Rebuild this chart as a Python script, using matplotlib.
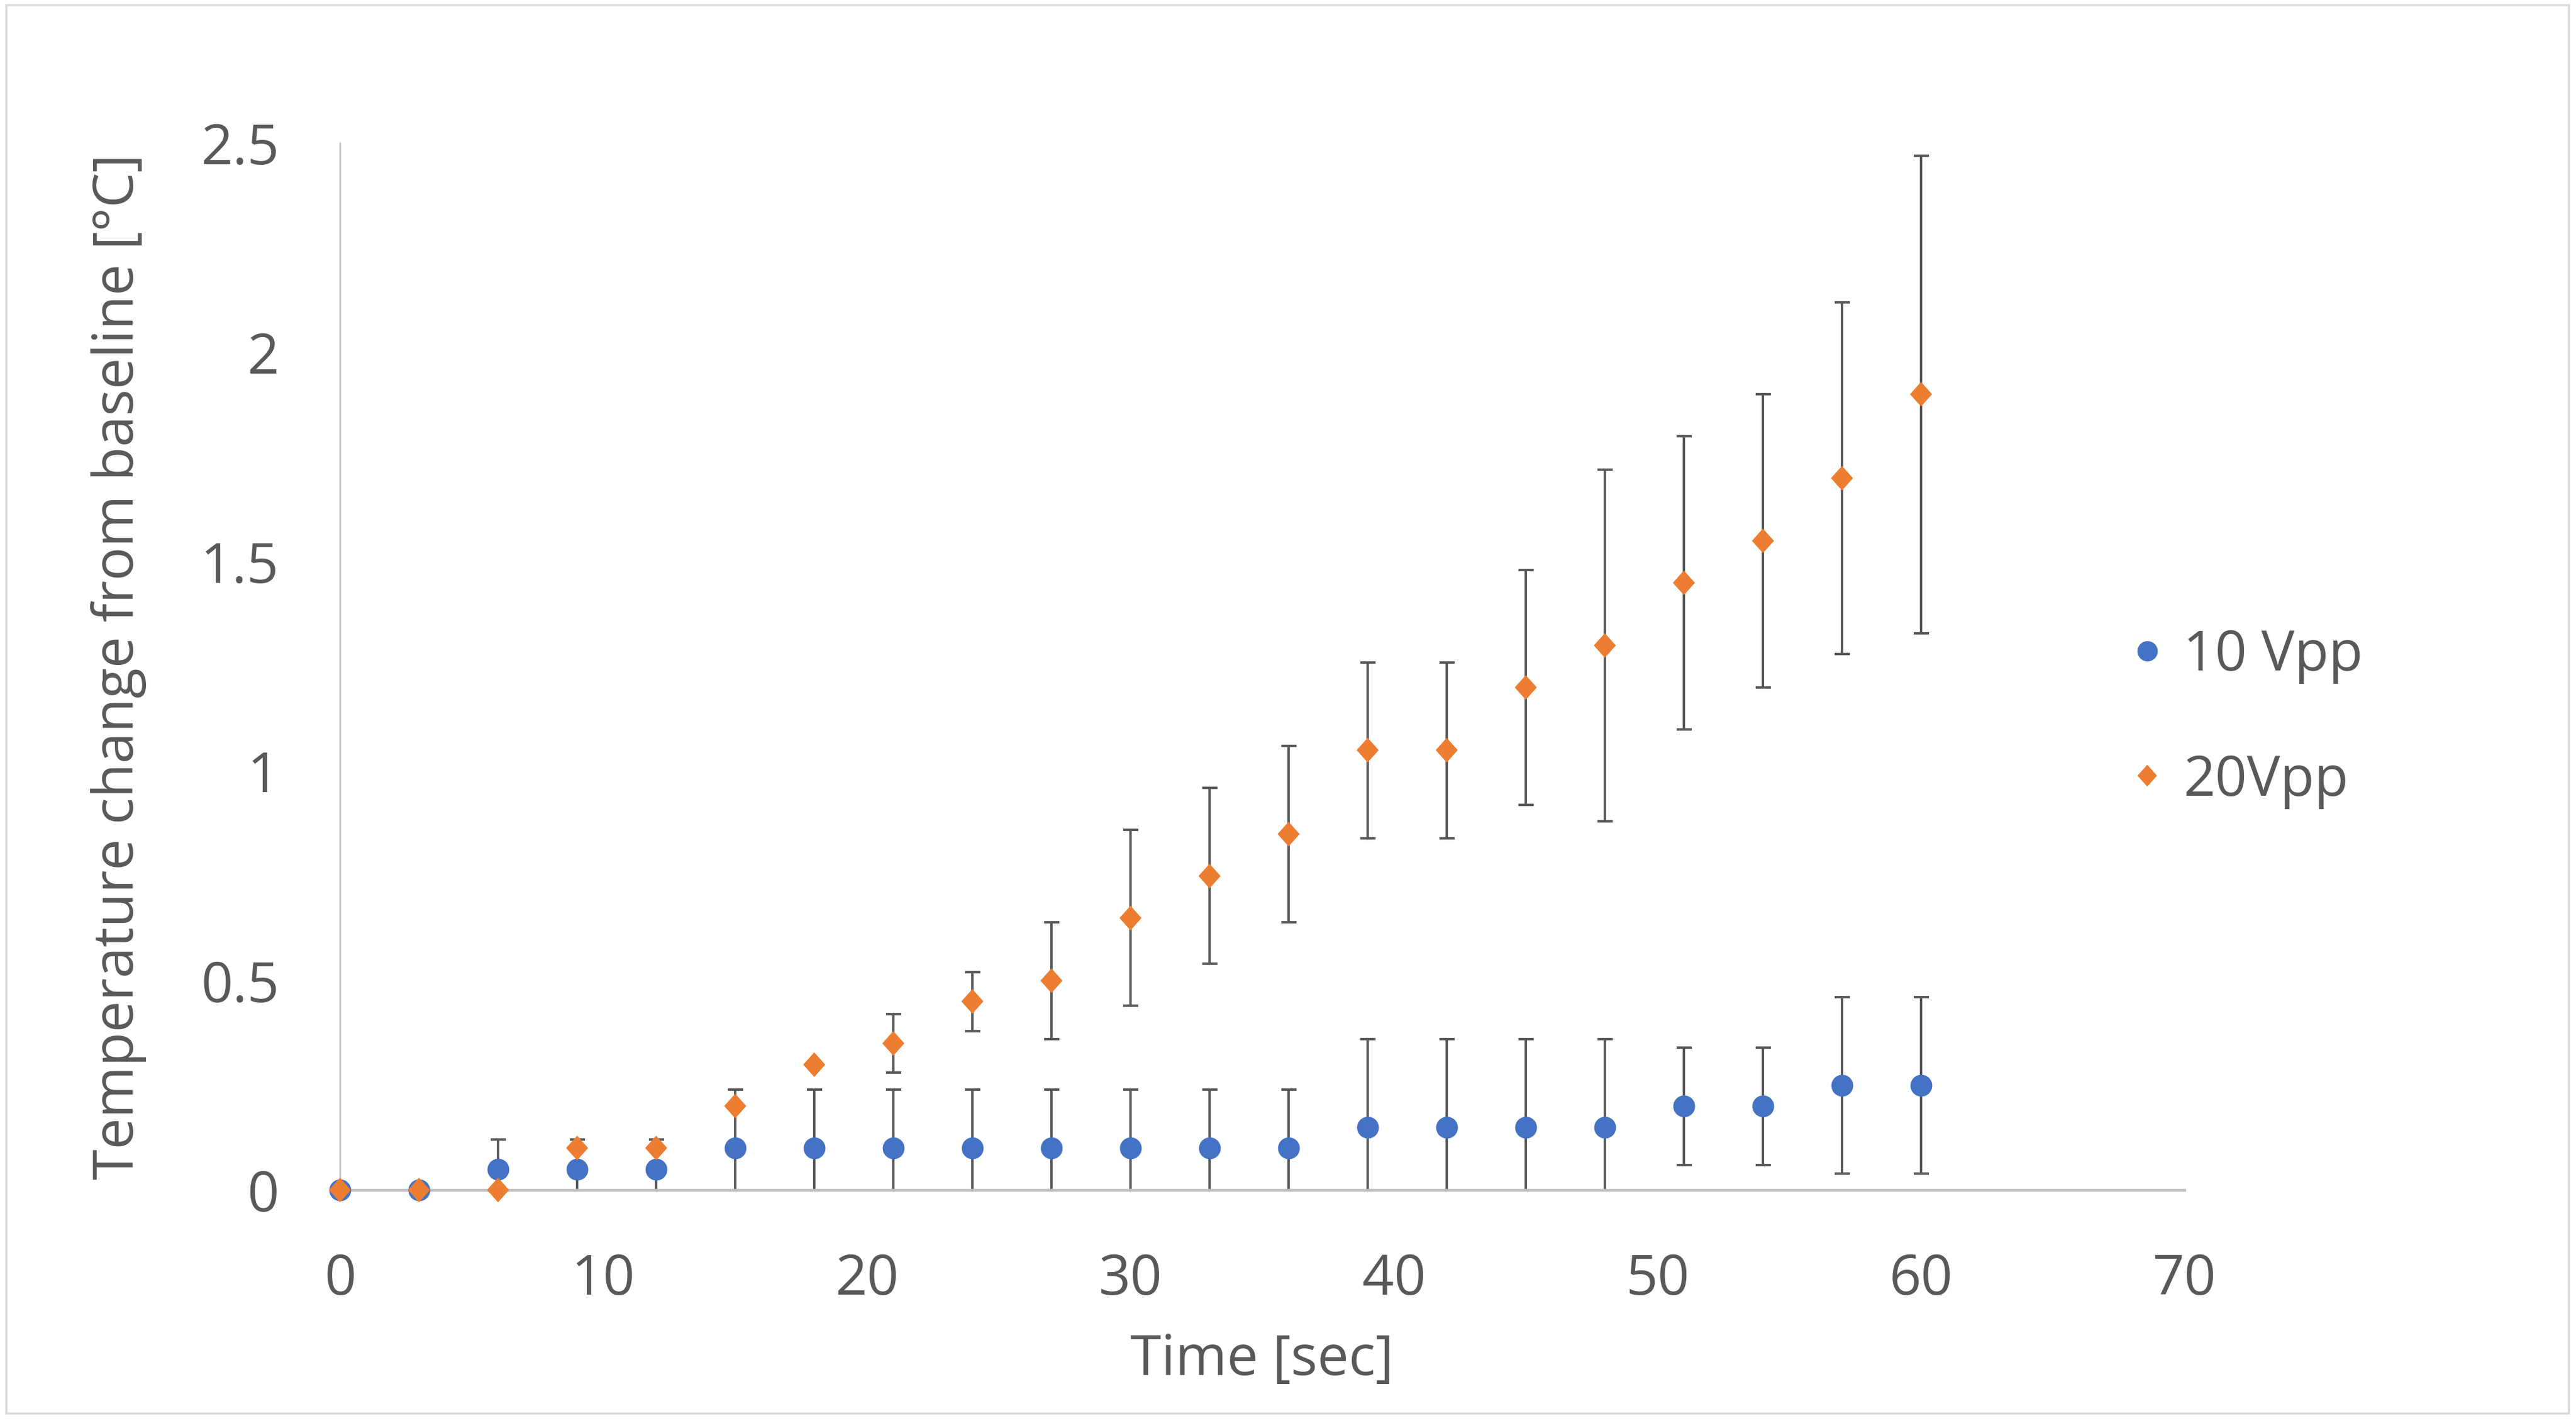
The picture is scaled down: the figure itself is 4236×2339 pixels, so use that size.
"""
Temperature change vs time for two drive voltages (scatter + error bars).
"""

import numpy as np
import matplotlib
matplotlib.use('Agg')
import matplotlib.pyplot as plt
from matplotlib.lines import Line2D
from matplotlib.markers import MarkerStyle
from matplotlib.patches import Rectangle
from matplotlib.transforms import Affine2D

# --- data ---
time_sec = [0, 3, 6, 9, 12, 15, 18, 21, 24, 27, 30, 33, 36, 39, 42, 45, 48, 51, 54, 57, 60]

vpp10 = [0, 0, 0.05, 0.05, 0.05, 0.1, 0.1, 0.1, 0.1, 0.1, 0.1, 0.1, 0.1,
         0.15, 0.15, 0.15, 0.15, 0.2, 0.2, 0.25, 0.25]
vpp10_err = [0, 0, 0.07, 0.07, 0.07, 0.14, 0.14, 0.14, 0.14, 0.14, 0.14, 0.14, 0.14,
             0.21, 0.21, 0.21, 0.21, 0.14, 0.14, 0.21, 0.21]

vpp20 = [0, 0, 0, 0.1, 0.1, 0.2, 0.3, 0.35, 0.45, 0.5, 0.65, 0.75, 0.85,
         1.05, 1.05, 1.2, 1.3, 1.45, 1.55, 1.7, 1.9]
vpp20_err = [0, 0, 0, 0, 0, 0, 0, 0.07, 0.07, 0.14, 0.21, 0.21, 0.21,
             0.21, 0.21, 0.28, 0.42, 0.35, 0.35, 0.42, 0.57]

series_names = ['10 Vpp', '20Vpp']
x_ticks = [0, 10, 20, 30, 40, 50, 60, 70]
y_ticks = [0, 0.5, 1, 1.5, 2, 2.5]
y_tick_labels = ['0', '0.5', '1', '1.5', '2', '2.5']

BLUE = '#4472C4'
ORANGE = '#ED7D31'
TEXT = '#595959'
AXIS = '#BFBFBF'
ERR = '#595959'

plt.rcParams['font.family'] = ['Open Sans', 'DejaVu Sans']

# Excel-style diamond, a touch taller than wide
DIAMOND = MarkerStyle('D', transform=Affine2D().scale(0.88, 1.0))


def draw_series(ax, x, y, err, color, marker, ms):
    """Error bars (only where there is an error) plus the markers on top."""
    x = np.asarray(x, dtype=float)
    y = np.asarray(y, dtype=float)
    err = np.asarray(err, dtype=float)
    has_err = err > 0
    ax.errorbar(x[has_err], y[has_err], yerr=err[has_err], fmt='none',
                ecolor=ERR, elinewidth=0.95, capsize=3.0, capthick=0.95, zorder=2)
    line, = ax.plot(x, y, linestyle='none', marker=marker, markersize=ms,
                    color=color, markeredgecolor=color, markeredgewidth=0.4, zorder=3)
    line.set_clip_on(False)
    return line


fig = plt.figure(figsize=(14.12, 7.7967), dpi=300)
ax = fig.add_axes([0.132, 0.1637, 0.716, 0.7358])

draw_series(ax, time_sec, vpp10, vpp10_err, BLUE, 'o', 8.2)
draw_series(ax, time_sec, vpp20, vpp20_err, ORANGE, DIAMOND, 6.4)

ax.set_xlim(0, 70)
ax.set_ylim(0, 2.5)
ax.set_xticks(x_ticks)
ax.set_yticks(y_ticks)
ax.set_yticklabels(y_tick_labels)
ax.tick_params(axis='both', length=0, labelsize=22, labelcolor=TEXT)
ax.tick_params(axis='x', pad=24.5)
ax.tick_params(axis='y', pad=24)

for side in ['top', 'right']:
    ax.spines[side].set_visible(False)
ax.spines['left'].set_color(AXIS)
ax.spines['left'].set_linewidth(0.6)
ax.spines['bottom'].set_color(AXIS)
ax.spines['bottom'].set_linewidth(1.1)

ax.set_xlabel('Time [sec]', fontsize=22, color=TEXT)
ax.xaxis.label.set_va('center')
ax.xaxis.set_label_coords(0.5, -0.163)
ax.set_ylabel('Temperature change from baseline [°C]', fontsize=22, color=TEXT)
ax.yaxis.label.set_va('center')
ax.yaxis.set_label_coords(-0.12, 0.5)

handles = [
    Line2D([], [], linestyle='none', marker='o', markersize=8.0, color=BLUE, markeredgewidth=0),
    Line2D([], [], linestyle='none', marker=DIAMOND, markersize=6.0, color=ORANGE, markeredgewidth=0),
]
leg = ax.legend(handles, series_names, loc='center left', bbox_to_anchor=(0.814, 0.495),
                bbox_transform=fig.transFigure, frameon=False, borderpad=0,
                handlelength=0.8, handletextpad=0.25, labelspacing=1.24, fontsize=22)
for t in leg.get_texts():
    t.set_color(TEXT)

# chart area border
fig.patches.append(Rectangle((10 / 4236, 16 / 2339), 4214 / 4236, 2315 / 2339,
                             transform=fig.transFigure, fill=False,
                             edgecolor='#D9D9D9', linewidth=0.8))

fig.savefig('out.png', dpi=300)
plt.close(fig)
